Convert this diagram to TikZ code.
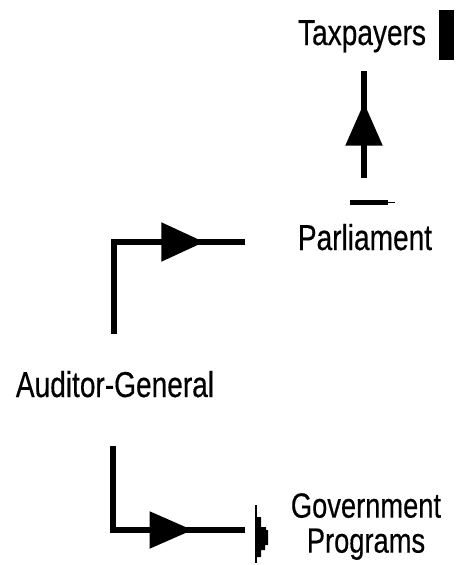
\documentclass[tikz,border=0pt]{standalone}
\usepackage{fontspec}
\setmainfont{Liberation Sans}[FakeStretch=0.78, FakeBold=0.4]
\usetikzlibrary{arrows.meta,decorations.markings}
\begin{document}
\begin{tikzpicture}[x=1pt, y=-1pt]
    % Define styles
    \tikzstyle{label} = [inner sep=0pt, font=\fontsize{36}{32}\selectfont, align=center]
    \tikzstyle{flow} = [line width=5.5pt]
    \tikzset{midarrow/.style 2 args={postaction={decorate}, decoration={markings,
        mark=at position #1 with {\arrow{Triangle[width=#2pt, length=43pt]}}}}}
    \useasboundingbox (0,0) rectangle (470,565);

    % Nodes
    \node[label, anchor=base] (taxpayers) at (362,45) {Taxpayers};
    \node[label, anchor=base] (parliament) at (365,250) {Parliament};
    \node[label, anchor=base] (auditor) at (115,397) {Auditor-General};
    \node[label, anchor=north, font=\fontsize{35}{35}\selectfont] (programs) at (366,493) {Government\\Programs};

    \coordinate (to_parliament) at (245,242);
    \coordinate (to_programs) at (245,530);

    % Flow arrows
    \draw[flow, midarrow={182pt}{38}] ([xshift=-1pt, yshift=37pt]auditor.north) |- (to_parliament);
    \draw[flow, midarrow={164pt}{36}] ([xshift=-2pt, yshift=-48pt]auditor.south) |- (to_programs);
    \draw[flow, midarrow={75pt}{36}] ([xshift=-1pt, yshift=46pt]parliament.north) -- ([xshift=2pt, yshift=-18pt]taxpayers.south);

    % Marks
    \fill (439,10) rectangle (454,60);
    \fill (350,200) rectangle (388,205);
    \draw[line width=1pt] (350,202) -- (395,202);
    \draw[line width=1.2pt] (256,505) -- (256,563);
    \fill (256,517) -- (261,517) -- (261,527) -- (266,527) -- (266,530) -- (268,530)
        -- (268,545) -- (265,545) -- (265,550) -- (261,550) -- (261,557) -- (256,557) -- cycle;
\end{tikzpicture}
\end{document}
